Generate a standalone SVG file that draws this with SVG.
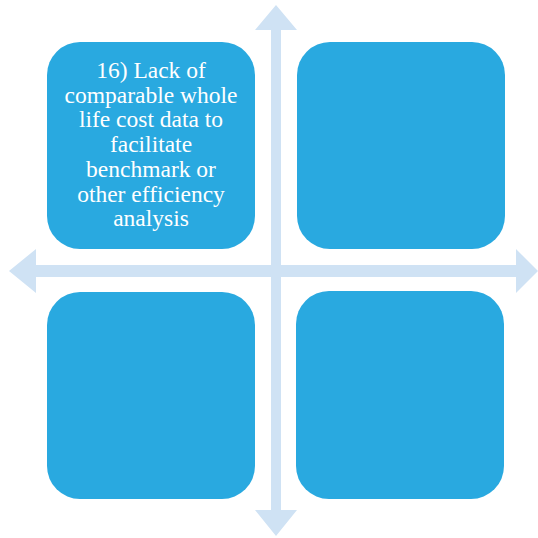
<svg xmlns="http://www.w3.org/2000/svg" width="538" height="538" viewBox="0 0 538 538">
<style>
.box{fill:#29A9E0;}
.arr{fill:#CFE2F4;}
.lbl{font-family:"Liberation Serif","Times New Roman",serif;font-size:23.5px;fill:#FFFFFF;text-anchor:middle;}
</style>
<rect width="538" height="538" fill="#FFFFFF"/>
<g id="connectors">
<polygon class="arr" points="276,5 297,30 281,30 281,265 516,265 516,249 538,271 516,293 516,277 281,277 281,510 297,510 276,536 255,510 271,510 271,277 36,277 36,293 9,271 36,249 36,265 271,265 271,30 255,30"/>
</g>
<g id="node-top-left">
<rect class="box" x="47" y="42" width="208" height="207" rx="33" ry="33"/>
<text class="lbl" x="151" y="78">16) Lack of</text>
<text class="lbl" x="151" y="102.7">comparable whole</text>
<text class="lbl" x="151" y="127.4">life cost data to</text>
<text class="lbl" x="151" y="152.1">facilitate</text>
<text class="lbl" x="151" y="176.8">benchmark or</text>
<text class="lbl" x="151" y="201.5">other efficiency</text>
<text class="lbl" x="151" y="226.2">analysis</text>
</g>
<g id="node-top-right">
<rect class="box" x="297" y="42" width="208" height="207" rx="33" ry="33"/>
</g>
<g id="node-bottom-left">
<rect class="box" x="47" y="292" width="208" height="207" rx="33" ry="33"/>
</g>
<g id="node-bottom-right">
<rect class="box" x="296" y="291" width="208" height="208" rx="33" ry="33"/>
</g>
</svg>
